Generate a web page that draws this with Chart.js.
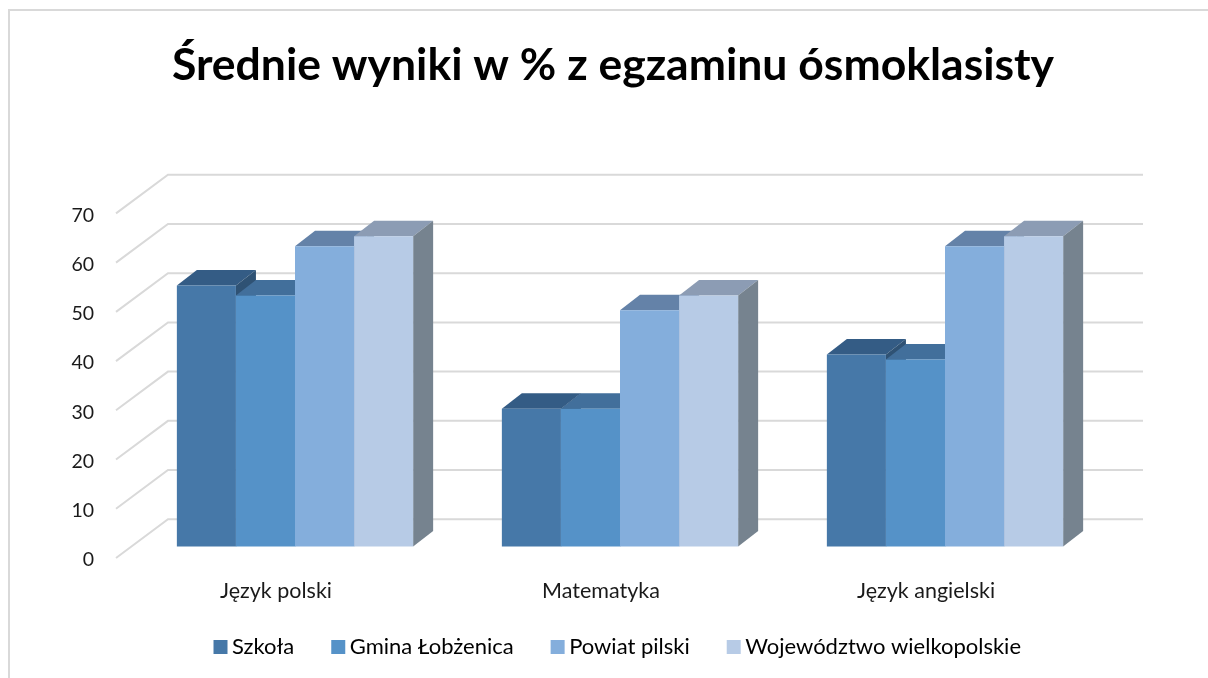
<!DOCTYPE html>
<html><head><meta charset="utf-8">
<style>html,body{margin:0;padding:0;background:#fff}canvas{display:block}</style>
<script src="https://cdn.jsdelivr.net/npm/chart.js@4"></script>
</head><body>
<canvas id="c" width="1208" height="678"></canvas>
<script>
const categories = ['Język polski', 'Matematyka', 'Język angielski'];
const titleText = 'Średnie wyniki w % z egzaminu ósmoklasisty';
const szkola = [53, 28, 39];
const gmina = [51, 28, 38];
const powiat = [61, 48, 61];
const wojewodztwo = [63, 51, 63];
const seriesNames = ['Szkoła', 'Gmina Łobżenica', 'Powiat pilski', 'Województwo wielkopolskie'];
const frontColors = ['#4678A8', '#5592C8', '#84AEDC', '#B7CBE6'];
const topColors = ['#345C85', '#426F9B', '#6482A8', '#8C9CB4'];
const sideColors = ['#2F5274', '#3A6088', '#5E7896', '#76838F'];
const FONT = 'Lato';
const depth = {x: 20, y: 15.5};      // bar depth
const inset = {x: 16.5, y: 11.5};    // bar front offset from the floor front edge
const wall = {x: 52, y: 38.7};       // floor depth
const plot = {left: 116, right: 1091, bottom: 558};

const plugin3d = {
  id: 'plugin3d',
  afterLayout(chart) {
    const dTitle = 613 - (chart.titleBlock.left + chart.titleBlock.right) / 2;
    chart.titleBlock.left += dTitle; chart.titleBlock.right += dTitle;
    chart.legend.left += 75; chart.legend.right += 75;
    chart.legend.top -= 10; chart.legend.bottom -= 10;
    chart.scales.x.bottom = 678;
  },
  beforeDraw(chart) {
    const c = chart.ctx;
    c.save();
    c.strokeStyle = '#D9D9D9'; c.lineWidth = 2;
    c.beginPath();
    c.moveTo(9, 678); c.lineTo(9, 10); c.lineTo(1208, 10);
    c.stroke();
    c.restore();
  },
  beforeDatasetsDraw(chart) {
    const c = chart.ctx, y = chart.scales.y, a = chart.chartArea;
    c.save();
    c.strokeStyle = '#D9D9D9'; c.lineWidth = 2;
    y.ticks.forEach(t => {
      const p = y.getPixelForValue(t.value);
      c.beginPath();
      c.moveTo(a.left, p);
      c.lineTo(a.left + wall.x, p - wall.y);
      c.lineTo(a.right + wall.x, p - wall.y);
      c.stroke();
    });
    chart.data.datasets.forEach((ds, i) => {
      chart.getDatasetMeta(i).data.forEach(b => {
        const x0 = b.x - b.width / 2 + inset.x, x1 = x0 + b.width;
        const t = b.y - inset.y, g = b.base - inset.y;
        c.fillStyle = topColors[i];
        c.beginPath();
        c.moveTo(x0, t); c.lineTo(x1, t);
        c.lineTo(x1 + depth.x, t - depth.y); c.lineTo(x0 + depth.x, t - depth.y);
        c.closePath(); c.fill();
        c.fillStyle = sideColors[i];
        c.beginPath();
        c.moveTo(x1, t); c.lineTo(x1 + depth.x, t - depth.y);
        c.lineTo(x1 + depth.x, g - depth.y); c.lineTo(x1, g);
        c.closePath(); c.fill();
      });
    });
    c.restore();
  },
  beforeDatasetDraw(chart) { chart.ctx.save(); chart.ctx.translate(inset.x, -inset.y); },
  afterDatasetDraw(chart) { chart.ctx.restore(); }
};

const values = [szkola, gmina, powiat, wojewodztwo];
new Chart(document.getElementById('c'), {
  type: 'bar',
  plugins: [plugin3d],
  data: {
    labels: categories,
    datasets: seriesNames.map((n, i) => ({
      label: n, data: values[i], backgroundColor: frontColors[i], borderWidth: 0,
      categoryPercentage: 0.727, barPercentage: 1, clip: false
    }))
  },
  options: {
    responsive: false, animation: false, devicePixelRatio: 1,
    layout: {padding: {left: 0, right: 1208 - plot.right, top: 0, bottom: 0}},
    plugins: {
      tooltip: {enabled: false},
      title: {
        display: true, text: titleText, color: '#000',
        font: {family: FONT, size: 44.5, weight: 'bold', lineHeight: 1},
        padding: {top: 43.75, bottom: 125.15}
      },
      legend: {
        position: 'bottom',
        labels: {
          font: {family: FONT, size: 22}, color: '#1a1a1a', padding: 43.5,
          boxWidth: 1, boxHeight: 1,
          generateLabels: ch => ch.data.datasets.map((d, i) => ({
            text: d.label, fillStyle: frontColors[i], strokeStyle: frontColors[i], lineWidth: 13, datasetIndex: i
          }))
        }
      }
    },
    scales: {
      x: {
        grid: {display: false, drawTicks: false}, border: {display: false},
        ticks: {font: {family: FONT, size: 21.5}, color: '#1a1a1a', padding: 20, maxRotation: 0, labelOffset: -2.5},
        afterFit(s) { s.height = 678 - plot.bottom - s.chart.legend.height; }
      },
      y: {
        min: 0, max: 70,
        grid: {display: false, drawTicks: false}, border: {display: false},
        ticks: {stepSize: 10, font: {family: FONT, size: 19.5}, color: '#1a1a1a', padding: 22, labelOffset: 2},
        afterFit(s) { s.width = plot.left; }
      }
    }
  }
});
</script>
</body></html>
